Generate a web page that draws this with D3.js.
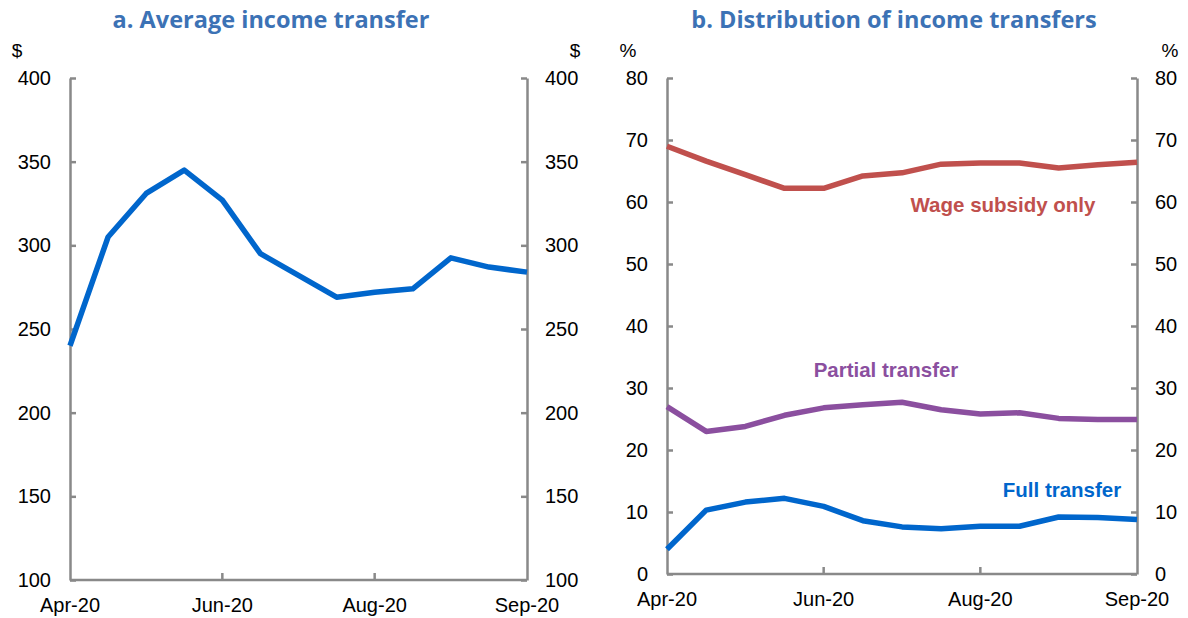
<!DOCTYPE html>
<meta charset="utf-8">
<style>
  body { margin: 0; background: #fff; }
  .title { font-family: "Open Sans", "Noto Sans", sans-serif; font-weight: bold; font-size: 23.5px; fill: #3c72b5; }
  .axis text { font-family: "Liberation Sans", Arial, sans-serif; font-size: 20px; fill: #000; }
  .axis path, .axis line { stroke: #898989; stroke-width: 2.5px; }
  .xlab { font-family: "Liberation Sans", Arial, sans-serif; font-size: 20px; fill: #000; }
  .unit { font-family: "Liberation Sans", Arial, sans-serif; font-size: 19px; fill: #000; }
  .serieslab { font-family: "Liberation Sans", Arial, sans-serif; font-weight: bold; font-size: 20.5px; }
</style>
<body>
<script src="https://cdnjs.cloudflare.com/ajax/libs/d3/7.8.5/d3.min.js"></script>
<script>

// 13 observations, Apr-20 .. Sep-20
var periods = d3.range(13);
var tickLabels = ['Apr-20', 'Jun-20', 'Aug-20', 'Sep-20'];
var labelIdx = [0, 4, 8, 12];

var avgTransfer = [240, 305, 331, 345, 327, 295, 282, 269, 272, 274, 292.5, 287, 284];

var wageOnly = [69.0, 66.6, 64.4, 62.2, 62.2, 64.2, 64.7, 66.1, 66.3, 66.3, 65.5, 66.0, 66.4];
var partial  = [27.0, 23.0, 23.8, 25.6, 26.8, 27.3, 27.7, 26.5, 25.8, 26.0, 25.1, 24.9, 24.9];
var full     = [4.0, 10.3, 11.6, 12.2, 10.9, 8.6, 7.6, 7.3, 7.7, 7.7, 9.2, 9.1, 8.8];

var leftTicks = [100, 150, 200, 250, 300, 350, 400];
var rightTicks = [0, 10, 20, 30, 40, 50, 60, 70, 80];

var blue = '#0066cc', red = '#c0504d', purple = '#8b4f9f';

var svg = d3.select('body').append('svg').attr('width', 1188).attr('height', 618);

function panel(opts) {
  var x = d3.scalePoint().domain(periods).range([opts.x0, opts.x1]);
  var y = d3.scaleLinear().domain(opts.domain).range([opts.y1, opts.y0]);

  svg.append('text').attr('class', 'title')
    .attr('x', opts.titleX).attr('y', 28)
    .attr('text-anchor', 'middle').text(opts.title);

  svg.append('g').attr('class', 'axis')
    .attr('transform', 'translate(' + opts.x0 + ',0)')
    .call(d3.axisLeft(y).tickValues(opts.ticks).tickSizeInner(-6).tickSizeOuter(0).tickPadding(19));
  svg.append('g').attr('class', 'axis')
    .attr('transform', 'translate(' + opts.x1 + ',0)')
    .call(d3.axisRight(y).tickValues(opts.ticks).tickSizeInner(-6).tickSizeOuter(0).tickPadding(18));

  // bottom axis
  svg.append('line').attr('x1', opts.x0).attr('x2', opts.x1)
    .attr('y1', opts.y1).attr('y2', opts.y1)
    .attr('stroke', '#898989').attr('stroke-width', 2.5);
  svg.selectAll(null).data([4, 8]).enter().append('line')
    .attr('x1', function (d) { return x(d); }).attr('x2', function (d) { return x(d); })
    .attr('y1', opts.y1).attr('y2', opts.y1 - 7)
    .attr('stroke', '#898989').attr('stroke-width', 2.5);
  svg.selectAll(null).data(labelIdx).enter().append('text').attr('class', 'xlab')
    .attr('x', function (d) { return x(d); }).attr('y', opts.y1 + 32)
    .attr('text-anchor', 'middle')
    .text(function (d, i) { return tickLabels[i]; });

  svg.append('text').attr('class', 'unit').attr('x', opts.unitL).attr('y', 57).attr('text-anchor', 'middle').text(opts.unit);
  svg.append('text').attr('class', 'unit').attr('x', opts.unitR).attr('y', 57).attr('text-anchor', 'middle').text(opts.unit);

  var line = d3.line().x(function (d, i) { return x(i); }).y(function (d) { return y(d); });
  opts.series.forEach(function (s) {
    svg.append('path').datum(s.values)
      .attr('d', line).attr('fill', 'none')
      .attr('stroke', s.color).attr('stroke-width', 5.5).attr('stroke-linejoin', 'round');
  });
  return { x: x, y: y };
}

panel({
  x0: 70, x1: 527, y0: 78, y1: 580, domain: [100, 400], ticks: leftTicks,
  title: 'a. Average income transfer', titleX: 271, unit: '$', unitL: 17, unitR: 575,
  series: [{ values: avgTransfer, color: blue }]
});

panel({
  x0: 667, x1: 1137, y0: 78, y1: 574, domain: [0, 80], ticks: rightTicks,
  title: 'b. Distribution of income transfers', titleX: 894, unit: '%', unitL: 628, unitR: 1170,
  series: [
    { values: wageOnly, color: red },
    { values: partial, color: purple },
    { values: full, color: blue }
  ]
});

var seriesLabels = [
  { text: 'Wage subsidy only', x: 1003, y: 212, color: red },
  { text: 'Partial transfer', x: 886, y: 377, color: purple },
  { text: 'Full transfer', x: 1062, y: 497, color: blue }
];
svg.selectAll(null).data(seriesLabels).enter().append('text').attr('class', 'serieslab')
  .attr('x', function (d) { return d.x; }).attr('y', function (d) { return d.y; })
  .attr('text-anchor', 'middle').attr('fill', function (d) { return d.color; })
  .text(function (d) { return d.text; });

</script>
</body>
